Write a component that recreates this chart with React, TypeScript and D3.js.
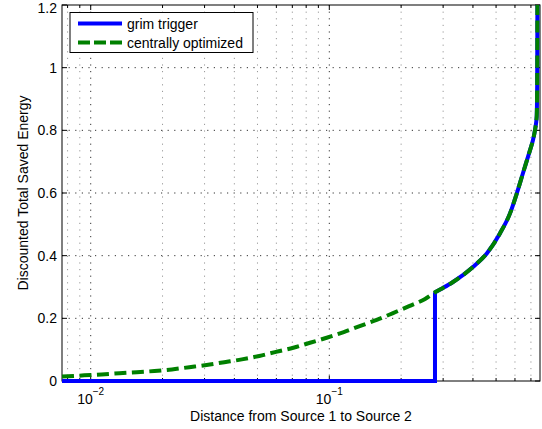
import React, { useEffect, useRef } from "react";
import * as d3 from "d3";

// lower branch of the centrally optimized curve (before the jump)
const lowerX = [
  0.00758, 0.0094, 0.0111, 0.0132, 0.0156, 0.0185, 0.0219, 0.0259, 0.0306,
  0.0363, 0.043, 0.0509, 0.0598, 0.0707, 0.083, 0.0975, 0.115, 0.135, 0.158,
  0.184, 0.216, 0.252,
];
const lowerY = [
  0.014, 0.018, 0.021, 0.025, 0.028, 0.032, 0.037, 0.044, 0.051, 0.06, 0.069,
  0.08, 0.093, 0.106, 0.122, 0.138, 0.156, 0.176, 0.195, 0.216, 0.239, 0.262,
];

// shared upper branch (both strategies coincide)
const upperX = [
  0.2773, 0.2996, 0.33, 0.4, 0.458, 0.519, 0.572, 0.612, 0.648, 0.694, 0.714,
  0.728, 0.74, 0.7435, 0.745,
];
const upperY = [
  0.283, 0.297, 0.316, 0.364, 0.408, 0.471, 0.535, 0.601, 0.663, 0.737, 0.769,
  0.801, 0.844, 0.95, 1.2,
];

// grim trigger stays at zero until the jump
const grimZeroX = [0.00758, 0.2773, 0.2773];
const grimZeroY = [0, 0, 0.283];

const yTicks = [0, 0.2, 0.4, 0.6, 0.8, 1, 1.2];
const xDecades = [0.01, 0.1];
const xMinor = [
  0.008, 0.009, 0.02, 0.03, 0.04, 0.05, 0.06, 0.07, 0.08, 0.09, 0.2, 0.3, 0.4,
  0.5, 0.6, 0.7,
];
const xTickExp = ["\u22122", "\u22121"];

const legendNames = ["grim trigger", "centrally optimized"];

type Pt = [number, number];

const App: React.FC = () => {
  const svgRef = useRef<SVGSVGElement>(null);

  useEffect(() => {
    if (!svgRef.current) return;
    const svg = d3.select(svgRef.current);
    svg.selectAll("*").remove();

    const left = 62,
      right = 540,
      top = 5,
      bottom = 381;
    const font = "'Liberation Sans', Arial, Helvetica, sans-serif";

    const x = d3.scaleLog().domain([0.00758, 0.764]).range([left, right]);
    const y = d3.scaleLinear().domain([0, 1.2]).range([bottom, top]);

    svg
      .append("rect")
      .attr("width", 542)
      .attr("height", 429)
      .attr("fill", "#fff");

    // grid
    const grid = svg.append("g");
    grid
      .selectAll("line.minor")
      .data(xMinor)
      .join("line")
      .attr("x1", (d) => x(d))
      .attr("x2", (d) => x(d))
      .attr("y1", top)
      .attr("y2", bottom)
      .attr("stroke", "#999")
      .attr("stroke-width", 1)
      .attr("stroke-dasharray", "1.2 5.4");
    grid
      .selectAll("line.major")
      .data(xDecades)
      .join("line")
      .attr("x1", (d) => x(d))
      .attr("x2", (d) => x(d))
      .attr("y1", top)
      .attr("y2", bottom)
      .attr("stroke", "#333")
      .attr("stroke-width", 1)
      .attr("stroke-dasharray", "1.2 5.4");
    grid
      .selectAll("line.h")
      .data(yTicks.slice(1, -1))
      .join("line")
      .attr("x1", left)
      .attr("x2", right)
      .attr("y1", (d) => y(d))
      .attr("y2", (d) => y(d))
      .attr("stroke", "#333")
      .attr("stroke-width", 1)
      .attr("stroke-dasharray", "1.2 5.4");

    // frame
    svg
      .append("rect")
      .attr("x", left)
      .attr("y", top)
      .attr("width", right - left)
      .attr("height", bottom - top)
      .attr("fill", "none")
      .attr("stroke", "#000")
      .attr("stroke-width", 1);

    // ticks (inward, both sides)
    const ticks = svg.append("g").attr("stroke", "#000").attr("stroke-width", 1);
    yTicks.forEach((t) => {
      ticks.append("line").attr("x1", left).attr("x2", left + 5).attr("y1", y(t)).attr("y2", y(t));
      ticks.append("line").attr("x1", right).attr("x2", right - 5).attr("y1", y(t)).attr("y2", y(t));
    });
    xDecades.forEach((t) => {
      ticks.append("line").attr("x1", x(t)).attr("x2", x(t)).attr("y1", bottom).attr("y2", bottom - 5);
      ticks.append("line").attr("x1", x(t)).attr("x2", x(t)).attr("y1", top).attr("y2", top + 5);
    });
    xMinor.forEach((t) => {
      ticks.append("line").attr("x1", x(t)).attr("x2", x(t)).attr("y1", bottom).attr("y2", bottom - 3);
      ticks.append("line").attr("x1", x(t)).attr("x2", x(t)).attr("y1", top).attr("y2", top + 3);
    });

    // tick labels (top one nudged down so it is not cut)
    svg
      .selectAll("text.yt")
      .data(yTicks)
      .join("text")
      .attr("x", left - 5)
      .attr("y", (d) => Math.max(y(d) + 5, 12.5))
      .attr("text-anchor", "end")
      .attr("font-family", font)
      .attr("font-size", 14)
      .text((d) => d3.format("~g")(d));

    xDecades.forEach((t, i) => {
      const txt = svg
        .append("text")
        .attr("x", x(t))
        .attr("y", 403.5)
        .attr("text-anchor", "middle")
        .attr("font-family", font)
        .attr("font-size", 14);
      txt.append("tspan").text("10");
      txt.append("tspan").attr("dy", -9).attr("font-size", 10).text(xTickExp[i]);
    });

    // axis labels
    svg
      .append("text")
      .attr("x", (left + right) / 2)
      .attr("y", 421)
      .attr("text-anchor", "middle")
      .attr("font-family", font)
      .attr("font-size", 14)
      .text("Distance from Source 1 to Source 2");
    svg
      .append("text")
      .attr("transform", `translate(28,${(top + bottom) / 2}) rotate(-90)`)
      .attr("text-anchor", "middle")
      .attr("font-family", font)
      .attr("font-size", 14)
      .text("Discounted Total Saved Energy");

    // series
    const straight = d3
      .line<Pt>()
      .x((d) => x(d[0]))
      .y((d) => y(d[1]));
    const smooth = d3
      .line<Pt>()
      .x((d) => x(d[0]))
      .y((d) => y(d[1]))
      .curve(d3.curveMonotoneX);

    const grimLow: Pt[] = grimZeroX.map((v, i) => [v, grimZeroY[i]] as Pt);
    const upper: Pt[] = upperX.map((v, i) => [v, upperY[i]] as Pt);
    const optPts: Pt[] = [
      ...lowerX.map((v, i) => [v, lowerY[i]] as Pt),
      ...upper,
    ];

    svg
      .append("path")
      .datum(grimLow)
      .attr("fill", "none")
      .attr("stroke", "#0000ff")
      .attr("stroke-width", 4)
      .attr("d", straight);
    svg
      .append("path")
      .datum(upper)
      .attr("fill", "none")
      .attr("stroke", "#0000ff")
      .attr("stroke-width", 4)
      .attr("d", smooth);
    svg
      .append("path")
      .datum(optPts)
      .attr("fill", "none")
      .attr("stroke", "#008000")
      .attr("stroke-width", 4)
      .attr("stroke-dasharray", "12 5.5")
      .attr("d", smooth);

    // legend
    const lg = svg.append("g");
    lg.append("rect")
      .attr("x", 70)
      .attr("y", 12.5)
      .attr("width", 183)
      .attr("height", 40)
      .attr("fill", "#fff")
      .attr("stroke", "#000")
      .attr("stroke-width", 1);
    legendNames.forEach((name, i) => {
      const ly = 23.5 + i * 19;
      lg.append("line")
        .attr("x1", 78)
        .attr("x2", 122)
        .attr("y1", ly)
        .attr("y2", ly)
        .attr("stroke", i === 0 ? "#0000ff" : "#008000")
        .attr("stroke-width", 4)
        .attr("stroke-dasharray", i === 0 ? null : "12 4");
      lg.append("text")
        .attr("x", 127)
        .attr("y", ly + 5)
        .attr("font-family", font)
        .attr("font-size", 14)
        .text(name);
    });
  }, []);

  return (
    <svg
      ref={svgRef}
      width={542}
      height={429}
      style={{ position: "absolute", left: 0, top: 0 }}
    />
  );
};

export default App;
